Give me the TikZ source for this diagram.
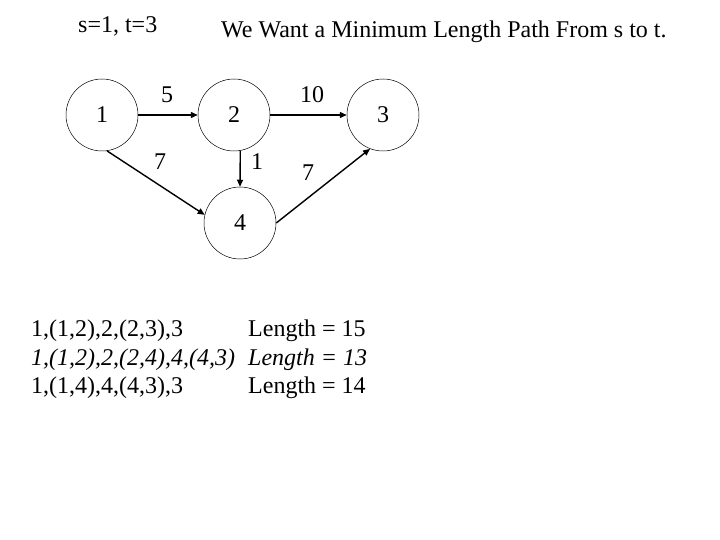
\documentclass[tikz,border=0pt]{standalone}
\usepackage{fontspec}
\setmainfont{Liberation Serif}
\usetikzlibrary{arrows.meta}

\begin{document}
\begin{tikzpicture}[x=1pt,y=-1pt,font=\fontsize{24}{28}\selectfont]
        \tikzstyle{vertex}=[circle, draw, line width=0.5pt, minimum size=72pt, inner sep=0pt]
        \tikzstyle{edge}=[line width=1.4pt, -{Triangle[length=7pt,width=6pt]}]
        \tikzstyle{weight}=[inner sep=0pt]
        \tikzstyle{row}=[anchor=base west, inner sep=0pt]
        \useasboundingbox (0,0) rectangle (720,540);
        % heading
        \node[row] (st) at (78,33) {s=1, t=3};
        \node[row] (title) at (221,38) {We Want a Minimum Length Path From s to t.};
        % the graph
        \node[vertex] (a) at (102,115) {1};
        \node[vertex] (b) at (234,115) {2};
        \node[vertex] (c) at (383,115) {3};
        \node[vertex] (d) at (240,223) {4};
        \draw[edge] (a.east) -- (b.west);
        \draw[edge] (b.east) -- (c.west);
        \draw[edge] (a.-82) -- (d.167);
        \draw[edge] (b.-80) -- (d.north);
        \draw[edge] (d.east) -- (c.-111);
        \node[weight] (w12) at (167,95) {5};
        \node[weight] (w23) at (312,95) {10};
        \node[weight] (w14) at (160,162) {7};
        \node[weight] (w24) at (257,162) {1};
        \node[weight] (w43) at (308,173) {7};
        % the paths
        \node[row] (p1) at (31,336) {1,(1,2),2,(2,3),3};
        \node[row] (l1) at (248,336) {Length = 15};
        \node[row] (p2) at (31,365) {\itshape 1,(1,2),2,(2,4),4,(4,3)};
        \node[row] (l2) at (248,365) {\itshape Length = 13};
        \node[row] (p3) at (31,393) {1,(1,4),4,(4,3),3};
        \node[row] (l3) at (248,393) {Length = 14};
      \end{tikzpicture}
\end{document}
